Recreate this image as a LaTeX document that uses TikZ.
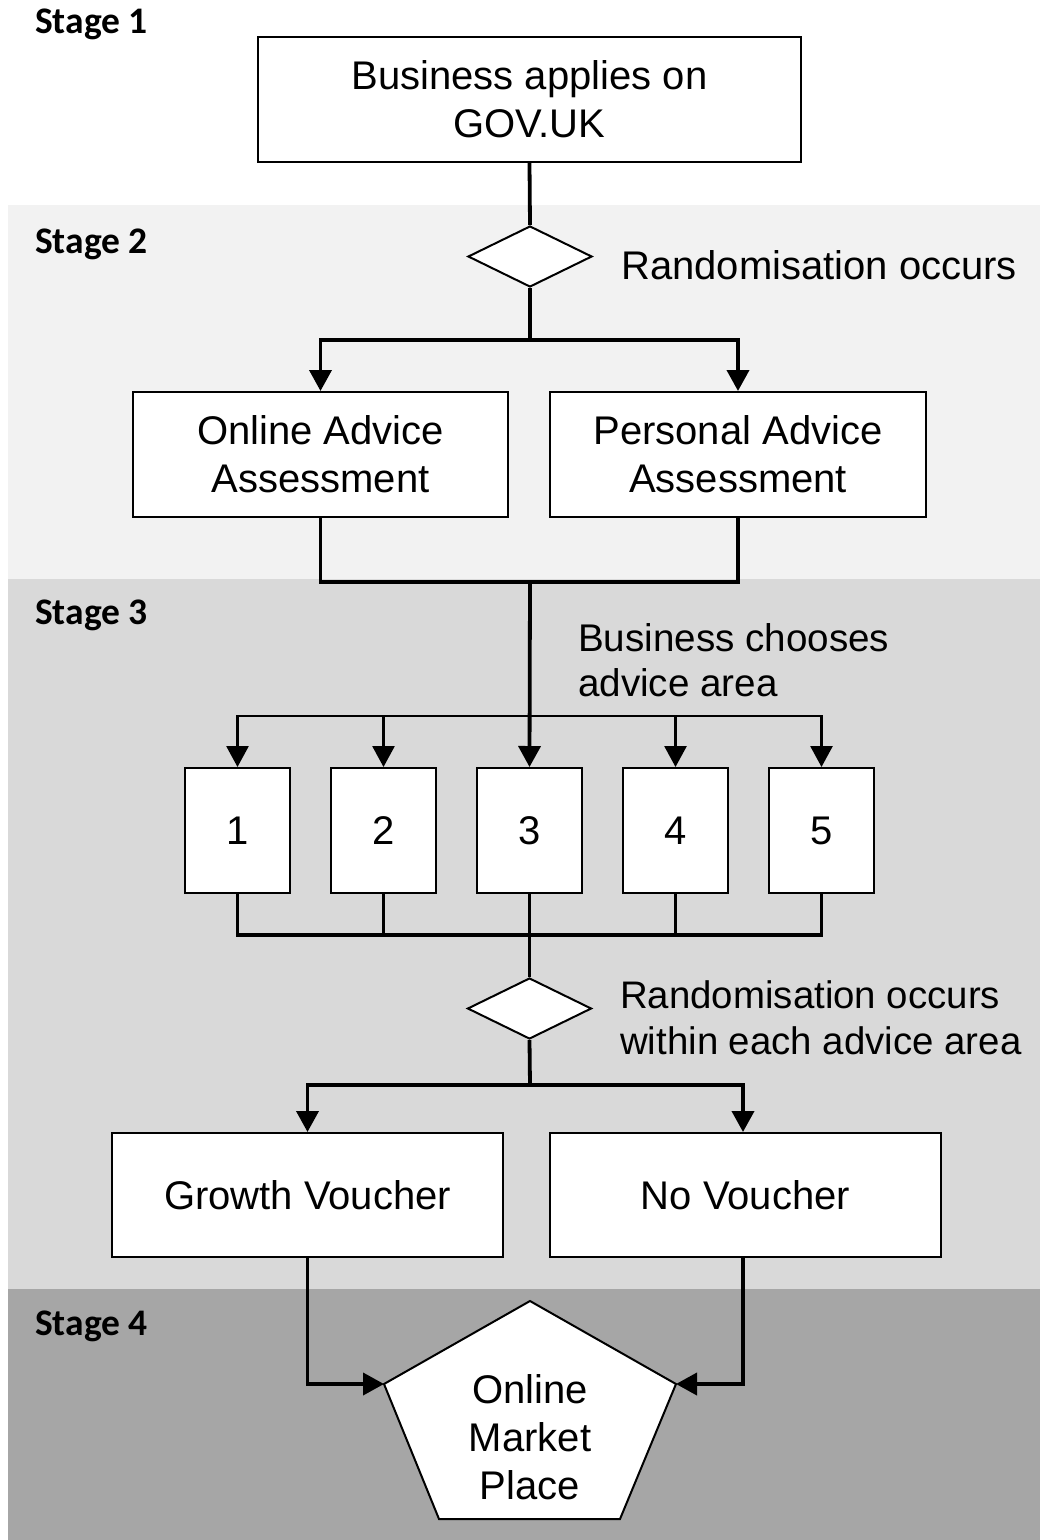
\documentclass[tikz,border=0pt]{standalone}
\usepackage{fontspec}
\setmainfont{Liberation Sans}
\newfontfamily\stagefont{Carlito}
\usetikzlibrary{arrows.meta,shapes.geometric}
\definecolor{stagetwo}{HTML}{F2F2F2}
\definecolor{stagethree}{HTML}{D9D9D9}
\definecolor{stagefour}{HTML}{A6A6A6}
\newcommand\bigtext{\fontsize{40}{48}\selectfont}
\begin{document}
\begin{tikzpicture}[x=1pt,y=-1pt,
  box/.style={draw, line width=2pt, fill=white, align=center, inner sep=0pt, font=\bigtext},
  decision/.style={diamond, draw, line width=2pt, fill=white, inner sep=0pt, minimum width=124pt, minimum height=61pt},
  stagelabel/.style={anchor=base west, inner sep=0pt, font=\stagefont\bfseries\fontsize{37.5}{40}\selectfont},
  sidetext/.style={anchor=west, inner sep=0pt, align=left},
  conn/.style={line width=3.8pt, line join=miter},
  branch/.style={line width=2.8pt, line join=miter},
  arr/.style={-{Triangle[length=21pt,width=22pt]}}
]
\useasboundingbox (0,0) rectangle (1040,1540);
% stage bands
\fill[stagetwo] (8,205) rectangle (1040,579);
\fill[stagethree] (8,579) rectangle (1040,1289);
\fill[stagefour] (8,1289) rectangle (1040,1540);

% stage labels
\node[stagelabel] (s1) at (35,33) {Stage 1};
\node[stagelabel] (s2) at (35,253) {Stage 2};
\node[stagelabel] (s3) at (35,624) {Stage 3};
\node[stagelabel] (s4) at (35,1335) {Stage 4};

% nodes
\node[box, minimum width=543pt, minimum height=125pt] (apply) at (529.5,99.5) {Business applies on\\GOV.UK};
\node[decision] (d1) at (530,256.5) {};
\node[sidetext, anchor=base west, font=\bigtext] (r1) at (621,279) {Randomisation occurs};
\node[box, minimum width=375pt, minimum height=125pt] (oaa) at (320.5,454.5) {Online Advice\\Assessment};
\node[box, minimum width=376pt, minimum height=125pt] (paa) at (738,454.5) {Personal Advice\\Assessment};
\node[sidetext, font=\fontsize{38.6}{45}\selectfont] (bc) at (578,660) {Business chooses\\advice area};
\foreach \i/\x in {1/237.5,2/383.5,3/529.5,4/675.5,5/821.5}{
  \node[box, minimum width=105pt, minimum height=125pt] (b\i) at (\x,830.5) {\i};
}
\node[decision] (d2) at (529.5,1008.5) {};
\node[sidetext, font=\fontsize{38.4}{46}\selectfont] (r2) at (620,1017.5) {Randomisation occurs\\within each advice area};
\node[box, minimum width=391pt, minimum height=124pt] (gv) at (307.5,1195) {Growth Voucher};
\node[box, minimum width=391pt, minimum height=124pt] (nv) at (745.5,1195) {No Voucher};

% pentagon
\coordinate (pt) at (530,1301);
\coordinate (pl) at (384,1384);
\coordinate (pr) at (676,1384);
\coordinate (pbr) at (620,1519);
\coordinate (pbl) at (439,1519);
\draw[line width=2pt, fill=white, line join=miter] (pt) -- (pr) -- (pbr) -- (pbl) -- (pl) -- cycle;
\node[align=center, inner sep=0pt, font=\bigtext] (omp) at (530,1437) {Online\\Market\\Place};

% junctions
\coordinate (j1) at (530,340);
\coordinate (j2) at (530,582);
\coordinate (j3) at (530,716);
\coordinate (j4) at (530,935);
\coordinate (j5) at (530,1085);

% connectors
\draw[conn] (apply.south) -- (d1.north);
\draw[conn] (d1.south) -- (j1);
\draw[conn,arr] (j1) -| (oaa.north);
\draw[conn,arr] (j1) -| (paa.north);
\draw[conn] (oaa.south) |- (j2) -| (paa.south);
\draw[conn,arr] (j2) -- (b3.north);
\draw[branch,arr] (j3) -| (b1.north);
\draw[branch,arr] (j3) -| (b2.north);
\draw[branch,arr] (j3) -| (b4.north);
\draw[branch,arr] (j3) -| (b5.north);
\draw[conn] (b1.south) |- (j4) -| (b5.south);
\draw[conn] (b2.south) -- (b2.south |- j4);
\draw[conn] (b4.south) -- (b4.south |- j4);
\draw[conn] (b3.south) -- (d2.north);
\draw[conn] (d2.south) -- (j5);
\draw[conn,arr] (j5) -| (gv.north);
\draw[conn,arr] (j5) -| ([xshift=-2.5pt]nv.north);
\draw[conn,arr] (gv.south) |- (pl);
\draw[conn,arr] ([xshift=-2.5pt]nv.south) |- (pr);
\end{tikzpicture}
\end{document}
